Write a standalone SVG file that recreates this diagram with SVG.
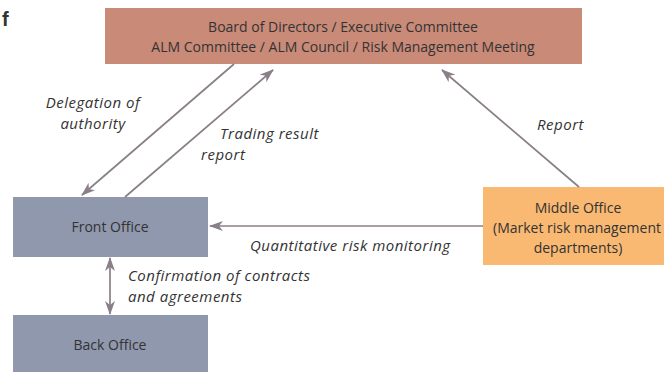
<svg xmlns="http://www.w3.org/2000/svg" width="664" height="372" viewBox="0 0 664 372">
<defs>
<marker id="ah" viewBox="0 0 14 10" refX="13" refY="5" markerWidth="14" markerHeight="10" markerUnits="userSpaceOnUse" orient="auto-start-reverse">
<path d="M0,0 L14,5 L0,10 L4,5 Z" fill="#8a7f88"/>
</marker>
</defs>
<style>
text{font-family:"Open Sans","Liberation Sans",sans-serif;fill:#333333;font-size:14px}
.c{text-anchor:middle}
.i{font-style:italic;font-size:15px;letter-spacing:0.5px}
.ln{stroke:#8a7f88;stroke-width:1.7;fill:none}
</style>
<rect width="664" height="372" fill="#ffffff"/>
<text x="2" y="26" style="font-weight:bold;font-size:20px;font-family:'Liberation Sans',sans-serif" fill="#222">f</text>
<g id="board">
<rect x="105" y="8" width="477" height="56" fill="#c98a78"/>
<text class="c" x="343" y="32">Board of Directors / Executive Committee</text>
<text class="c" x="343" y="52">ALM Committee / ALM Council / Risk Management Meeting</text>
</g>
<g id="front">
<rect x="13" y="197" width="195" height="60" fill="#9098ad"/>
<text class="c" x="110" y="232">Front Office</text>
</g>
<g id="back">
<rect x="13" y="315" width="195" height="57" fill="#9098ad"/>
<text class="c" x="110" y="350">Back Office</text>
</g>
<g id="middle">
<rect x="483" y="187" width="181" height="78" fill="#f9b972"/>
<text class="c" x="578" y="213">Middle Office</text>
<text class="c" x="577" y="233">(Market risk management</text>
<text class="c" x="578" y="253">departments)</text>
</g>
<g id="connectors">
<line class="ln" x1="234" y1="64" x2="82" y2="195" marker-end="url(#ah)"/>
<line class="ln" x1="125" y1="197" x2="273" y2="70" marker-end="url(#ah)"/>
<line class="ln" x1="579" y1="187" x2="442" y2="70" marker-end="url(#ah)"/>
<line class="ln" x1="483" y1="226" x2="210" y2="226" marker-end="url(#ah)"/>
<line class="ln" x1="110" y1="258" x2="110" y2="314" marker-start="url(#ah)" marker-end="url(#ah)"/>
<text class="c i" x="93" y="108">Delegation of</text>
<text class="c i" x="93" y="128.5">authority</text>
<text class="i" x="220" y="139">Trading result</text>
<text class="i" x="201" y="159.5">report</text>
<text class="i" x="537" y="130">Report</text>
<text class="i" x="250" y="251">Quantitative risk monitoring</text>
<text class="i" x="128" y="281">Confirmation of contracts</text>
<text class="i" x="128" y="301.5">and agreements</text>
</g>
</svg>
